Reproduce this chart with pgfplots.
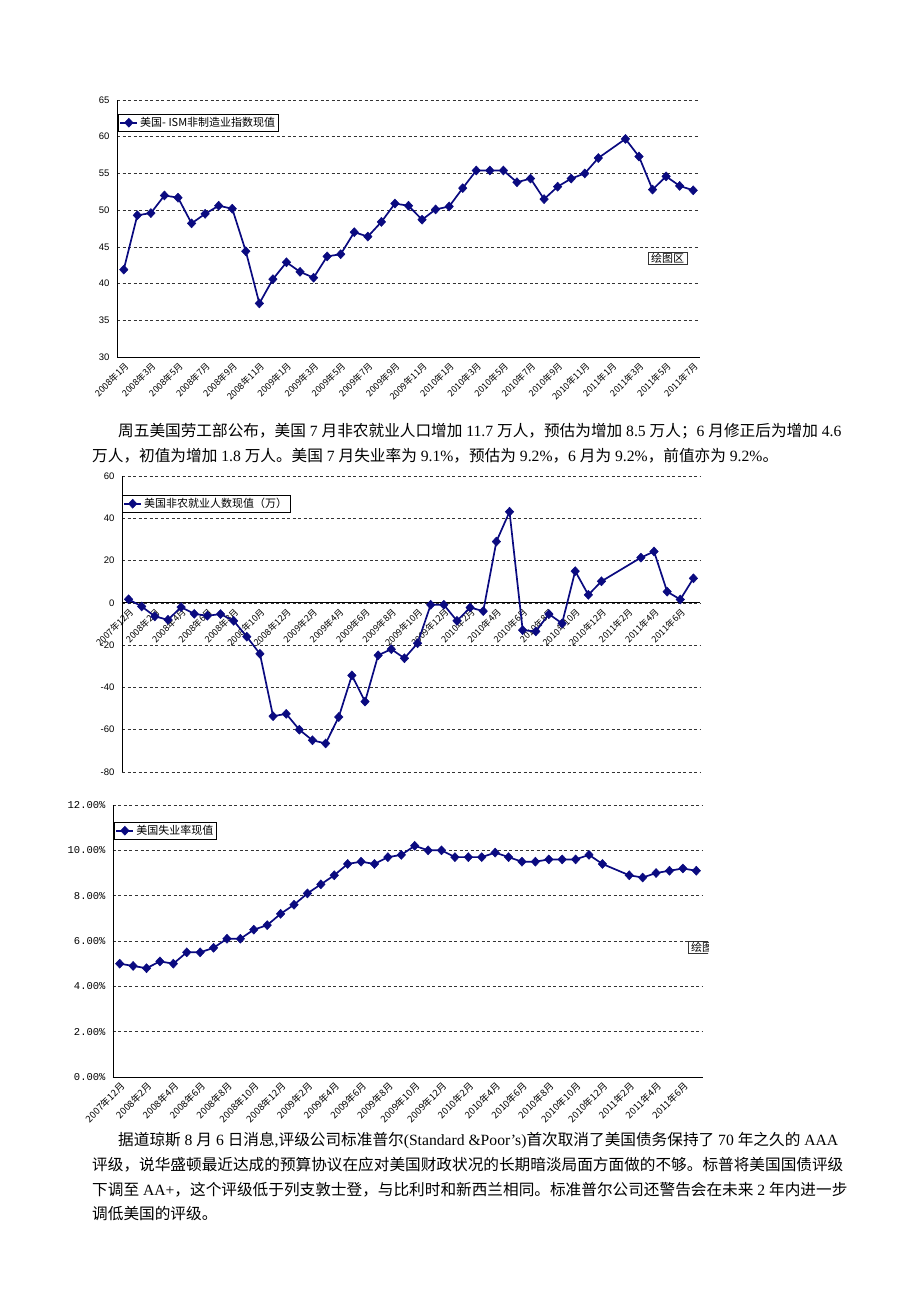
\documentclass[border=0pt]{standalone}
\usepackage{pgfplots}
\pgfplotsset{compat=1.18}
\usepackage{fontspec}
\setmainfont{Liberation Serif}
\newfontfamily\cjk{Noto Sans CJK SC}
\newfontfamily\lsans{Liberation Sans}
\newfontfamily\lmono{Liberation Mono}
\newcommand\zh[1]{{\cjk #1}}
\definecolor{navy}{RGB}{10,10,128}
\pgfplotsset{
  mychart/.style={
    scale only axis, anchor=south west,
    axis x line*=bottom, axis y line*=left,
    axis line style={black, line width=0.9pt},
    ymajorgrids,
    grid style={black!80, line width=0.7pt, dash pattern=on 3pt off 2.5pt},
    ytick style={draw=none},
    xtick style={draw=none},
    minor x tick style={black, line width=0.8pt},
    tick align=inside, major tick length=0pt, minor tick length=4pt,
    hide obscured x ticks=false, hide obscured y ticks=false,
    xticklabel style={font=\cjk\fontsize{9}{10}\selectfont, rotate=45, anchor=north east, inner sep=1pt, xshift=-2pt, yshift=-2pt},
    yticklabel style={font=\lsans\fontsize{9.5}{10}\selectfont, xshift=-4pt},
    legend style={anchor=north west, draw=black, line width=0.6pt, inner sep=1pt,
      font=\cjk\fontsize{11}{12}\selectfont, legend cell align=left},
    clip=false,
  },
  ser/.style={navy, line width=1.7pt, mark=diamond*, mark size=4.5pt, mark options={solid, fill=navy, draw=navy, line width=0.5pt, xscale=1.25}},
}
\begin{document}
\begin{tikzpicture}[x=1pt,y=-1pt]
\fill[white] (0,0) rectangle (920,1302);

% ---------------- chart 1 ----------------
\begin{axis}[mychart, at={(117pt,-357pt)}, width=583pt, height=257pt,
  xmin=0.5, xmax=43.5, ymin=30, ymax=65,
  ytick={30,35,...,65}, yticklabels={30,35,40,45,50,55,60,65},
  xtick={1,3,...,43}, minor xtick={2.5,4.5,...,42.5},
  xticklabels={2008年1月,2008年3月,2008年5月,2008年7月,2008年9月,2008年11月,2009年1月,2009年3月,2009年5月,2009年7月,2009年9月,2009年11月,2010年1月,2010年3月,2010年5月,2010年7月,2010年9月,2010年11月,2011年1月,2011年3月,2011年5月,2011年7月},
  legend style={at={(0.002,0.9455)}}]
\addplot[ser] coordinates {(1,41.9) (2,49.3) (3,49.6) (4,52.0) (5,51.7) (6,48.2) (7,49.5) (8,50.6) (9,50.2) (10,44.4) (11,37.3) (12,40.6) (13,42.9) (14,41.6) (15,40.8) (16,43.7) (17,44.0) (18,47.0) (19,46.4) (20,48.4) (21,50.9) (22,50.6) (23,48.7) (24,50.1) (25,50.5) (26,53.0) (27,55.4) (28,55.4) (29,55.4) (30,53.8) (31,54.3) (32,51.5) (33,53.2) (34,54.3) (35,55.0) (36,57.1) (38,59.7) (39,57.3) (40,52.8) (41,54.6) (42,53.3) (43,52.7)};
\legend{美国- ISM非制造业指数现值}
\end{axis}
\node[draw=black!80, fill=white, inner xsep=3pt, inner ysep=1pt, font=\cjk\fontsize{11}{12}\selectfont, anchor=north west] at (648,252) {绘图区};

% ---------------- paragraph 1 ----------------
\begin{scope}[every node/.style={anchor=base west, inner sep=0pt, font=\fontsize{15.65}{18}\selectfont}]
\node at (118,436) {\zh{周五美国劳工部公布，美国} 7 \zh{月非农就业人口增加} 11.7 \zh{万人，预估为增加} 8.5 \zh{万人；}6 \zh{月修正后为增加} 4.6};
\node at (92,461) {\zh{万人，初值为增加} 1.8 \zh{万人。美国} 7 \zh{月失业率为} 9.1\%\zh{，预估为} 9.2\%\zh{，}6 \zh{月为} 9.2\%\zh{，前值亦为} 9.2\%\zh{。}};
\end{scope}

% ---------------- chart 2 ----------------
\begin{axis}[mychart, at={(122pt,-772pt)}, width=578pt, height=296pt,
  axis x line*=middle,
  xmin=0.5, xmax=44.5, ymin=-80, ymax=60,
  ytick={-80,-60,...,60}, yticklabels={-80,-60,-40,-20,0,20,40,60},
  xtick={1,3,...,43}, minor xtick={2.5,4.5,...,44.5},
  xticklabels={2007年12月,2008年2月,2008年4月,2008年6月,2008年8月,2008年10月,2008年12月,2009年2月,2009年4月,2009年6月,2009年8月,2009年10月,2009年12月,2010年2月,2010年4月,2010年6月,2010年8月,2010年10月,2010年12月,2011年2月,2011年4月,2011年6月},
  legend style={at={(0.0,0.936)}}]
\addplot[ser] coordinates {(1,1.7) (2,-1.7) (3,-6.4) (4,-8.0) (5,-2.0) (6,-5.2) (7,-6.1) (8,-5.3) (9,-8.5) (10,-16.0) (11,-24.1) (12,-53.6) (13,-52.5) (14,-60.0) (15,-65.0) (16,-66.5) (17,-54.0) (18,-34.3) (19,-46.7) (20,-24.8) (21,-21.9) (22,-26.2) (23,-19.1) (24,-0.9) (25,-0.9) (26,-8.5) (27,-2.2) (28,-3.9) (29,29.0) (30,43.1) (31,-12.9) (32,-13.5) (33,-5.3) (34,-9.7) (35,15.0) (36,3.8) (37,10.2) (40,21.4) (41,24.3) (42,5.3) (43,1.6) (44,11.6)};
\legend{美国非农就业人数现值（万）}
\end{axis}

% ---------------- chart 3 ----------------
\begin{axis}[mychart, at={(113pt,-1077pt)}, width=590pt, height=272pt,
  xmin=0.5, xmax=44.5, ymin=0, ymax=12,
  ytick={0,2,...,12}, yticklabels={0.00\%,2.00\%,4.00\%,6.00\%,8.00\%,10.00\%,12.00\%},
  yticklabel style={font=\lmono\fontsize{10.5}{11}\selectfont, xshift=0pt},
  xtick={1,3,...,43}, minor xtick={2.5,4.5,...,44.5},
  xticklabel style={font=\cjk\fontsize{9.5}{10}\selectfont},
  xticklabels={2007年12月,2008年2月,2008年4月,2008年6月,2008年8月,2008年10月,2008年12月,2009年2月,2009年4月,2009年6月,2009年8月,2009年10月,2009年12月,2010年2月,2010年4月,2010年6月,2010年8月,2010年10月,2010年12月,2011年2月,2011年4月,2011年6月},
  legend style={at={(0.002,0.9375)}}]
\addplot[ser] coordinates {(1,5.0) (2,4.9) (3,4.8) (4,5.1) (5,5.0) (6,5.5) (7,5.5) (8,5.7) (9,6.1) (10,6.1) (11,6.5) (12,6.7) (13,7.2) (14,7.6) (15,8.1) (16,8.5) (17,8.9) (18,9.4) (19,9.5) (20,9.4) (21,9.7) (22,9.8) (23,10.2) (24,10.0) (25,10.0) (26,9.7) (27,9.7) (28,9.7) (29,9.9) (30,9.7) (31,9.5) (32,9.5) (33,9.6) (34,9.6) (35,9.6) (36,9.8) (37,9.4) (39,8.9) (40,8.8) (41,9.0) (42,9.1) (43,9.2) (44,9.1)};
\legend{美国失业率现值}
\end{axis}
\begin{scope}
\clip (680,930) rectangle (708,965);
\node[draw=black!80, fill=white, inner xsep=3pt, inner ysep=1pt, font=\cjk\fontsize{11}{12}\selectfont, anchor=north west] at (688,941) {绘图区};
\end{scope}

% ---------------- paragraph 2 ----------------
\begin{scope}[every node/.style={anchor=base west, inner sep=0pt, font=\fontsize{15.65}{18}\selectfont}]
\node at (118,1145) {\zh{据道琼斯} 8 \zh{月} 6 \zh{日消息},\zh{评级公司标准普尔}(Standard \&Poor's)\zh{首次取消了美国债务保持了} 70 \zh{年之久的} AAA};
\node at (92,1170) {\zh{评级，说华盛顿最近达成的预算协议在应对美国财政状况的长期暗淡局面方面做的不够。标普将美国国债评级}};
\node at (92,1195) {\zh{下调至} AA+\zh{，这个评级低于列支敦士登，与比利时和新西兰相同。标准普尔公司还警告会在未来} 2 \zh{年内进一步}};
\node at (92,1219) {\zh{调低美国的评级。}};
\end{scope}
\end{tikzpicture}
\end{document}
